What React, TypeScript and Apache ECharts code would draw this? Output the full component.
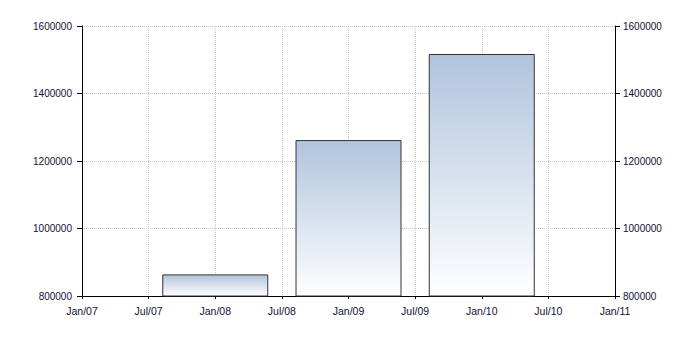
import React, { useEffect, useRef } from "react";
import * as echarts from "echarts";

const barYears = [2008, 2009, 2010];
const barValues = [864000, 1262000, 1517000];
const xTickLabels = ["Jan/07", "Jul/07", "Jan/08", "Jul/08", "Jan/09", "Jul/09", "Jan/10", "Jul/10", "Jan/11"];
const startYear = 2007;

export default function App() {
  const ref = useRef<HTMLDivElement>(null);
  useEffect(() => {
    if (!ref.current) return;
    const chart = echarts.init(ref.current, null, { renderer: "svg" });
    const font = { fontFamily: "'Liberation Sans', Arial, sans-serif", fontSize: 10, color: "#111133" };
    const yAxisBase = {
      type: "value" as const,
      min: 800000,
      max: 1600000,
      interval: 200000,
      axisLine: { show: true, lineStyle: { color: "#000", width: 1 } },
      axisTick: { show: true, length: 5, lineStyle: { color: "#000" } },
    };
    const yFmt = (v: number) => String(Math.round(v));
    chart.setOption({
      animation: false,
      backgroundColor: "#fff",
      grid: { left: 82, right: 63, top: 26, bottom: 50, containLabel: false },
      xAxis: {
        type: "value",
        min: 0,
        max: 48,
        interval: 6,
        axisLine: { show: true, onZero: false, lineStyle: { color: "#000", width: 1 } },
        axisTick: { show: true, length: 3, lineStyle: { color: "#000" } },
        axisLabel: {
          ...font,
          fontSize: 10.5,
          margin: 9,
          formatter: (v: number) => xTickLabels[Math.round(v / 6)] ?? "",
        },
        splitLine: { show: true, lineStyle: { color: "#c8c8c8", type: "dotted", width: 1 } },
      },
      yAxis: [
        {
          ...yAxisBase,
          position: "left",
          axisLabel: { ...font, margin: 10, formatter: yFmt },
          splitLine: { show: true, lineStyle: { color: "#c8c8c8", type: "dotted", width: 1 } },
        },
        {
          ...yAxisBase,
          position: "right",
          axisLabel: { ...font, margin: 8, formatter: yFmt },
          splitLine: { show: false },
        },
      ],
      series: [
        {
          type: "bar",
          yAxisIndex: 0,
          barWidth: 106,
          data: barYears.map((y, i) => [(y - startYear) * 12, barValues[i]]),
          itemStyle: {
            color: new echarts.graphic.LinearGradient(0, 0, 0, 1, [
              { offset: 0, color: "#b0c4de" },
              { offset: 1, color: "#ffffff" },
            ]),
            borderColor: "#333",
            borderWidth: 1,
          },
        },
      ],
    });
    return () => chart.dispose();
  }, []);
  return <div ref={ref} style={{ position: "fixed", left: 0, top: 0, width: 678, height: 346 }} />;
}
